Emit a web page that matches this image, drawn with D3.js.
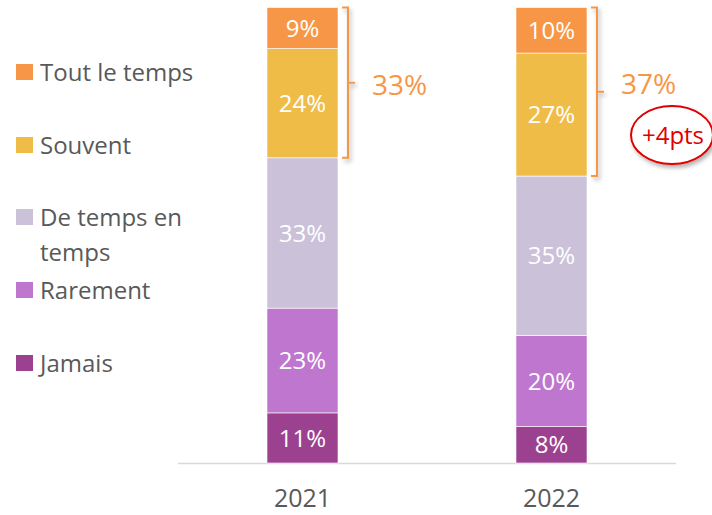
<!DOCTYPE html>
<html>
<head>
<meta charset="utf-8">
<script src="https://cdn.jsdelivr.net/npm/d3@7"></script>
<style>
  body { margin: 0; background: #fff; }
  svg { font-family: "Open Sans", "Noto Sans", sans-serif; }
</style>
</head>
<body>
<svg id="chart" width="712" height="515"></svg>
<script>
// data
const years = ["2021", "2022"];
const categories = ["Jamais", "Rarement", "De temps en temps", "Souvent", "Tout le temps"];
const values2021 = [11, 23, 33, 24, 9];
const values2022 = [8, 20, 35, 27, 10];
const bracketTotals = ["33%", "37%"];
const evolutionLabel = "+4pts";

const colors = ["#9C4190", "#BE76CF", "#CBC2DA", "#F0BC48", "#F79646"];

const rows = years.map((y, i) => {
    const row = { year: y };
    const vals = i === 0 ? values2021 : values2022;
    categories.forEach((c, j) => row[c] = vals[j]);
    return row;
});

const svg = d3.select("#chart");

const x = d3.scalePoint().domain(years).range([178, 676]).padding(0.5);
const y = d3.scaleLinear().domain([0, 100]).range([463, 7.5]);
const barWidth = 71;
const color = d3.scaleOrdinal().domain(categories).range(colors);

const defs = svg.append("defs");
const shadow = defs.append("filter").attr("id", "shadow")
    .attr("x", "-30%").attr("y", "-30%").attr("width", "160%").attr("height", "160%");
shadow.append("feDropShadow")
    .attr("dx", 2).attr("dy", 3).attr("stdDeviation", 2)
    .attr("flood-color", "#000").attr("flood-opacity", 0.3);

// axis line
svg.append("line")
    .attr("x1", 178).attr("x2", 676)
    .attr("y1", y(0) + 0.5).attr("y2", y(0) + 0.5)
    .attr("stroke", "#d9d9d9").attr("stroke-width", 1.5);

const stack = d3.stack().keys(categories);
const series = stack(rows);

const layers = svg.append("g").selectAll("g")
    .data(series)
    .enter().append("g")
    .attr("fill", d => color(d.key));

layers.selectAll("rect")
    .data(d => d.map(p => ({ key: d.key, p: p })))
    .enter().append("rect")
    .attr("x", d => x(d.p.data.year) - barWidth / 2)
    .attr("y", d => y(d.p[1]))
    .attr("width", barWidth)
    .attr("height", d => y(d.p[0]) - y(d.p[1]))
    .attr("stroke", "#fff")
    .attr("stroke-width", 0.6);

layers.selectAll("text")
    .data(d => d.map(p => ({ key: d.key, p: p })))
    .enter().append("text")
    .attr("x", d => x(d.p.data.year))
    .attr("y", d => (y(d.p[0]) + y(d.p[1])) / 2)
    .attr("dy", "0.36em")
    .attr("text-anchor", "middle")
    .attr("fill", "#fff")
    .attr("font-size", "24px")
    .text(d => (d.p[1] - d.p[0]) + "%");

// x labels
svg.append("g").selectAll("text")
    .data(years)
    .enter().append("text")
    .attr("x", d => x(d))
    .attr("y", 507)
    .attr("text-anchor", "middle")
    .attr("fill", "#595959")
    .attr("font-size", "25px")
    .text(d => d);

// brackets round the top two categories
const topSeries = series[series.length - 1];
const souventSeries = series[series.length - 2];
years.forEach((yr, i) => {
    const top = y(topSeries[i][1]);
    const bottom = y(souventSeries[i][0]);
    const x0 = x(yr) + barWidth / 2 + 4;
    const x1 = x0 + 6;
    const mid = (top + bottom) / 2;
    svg.append("path")
        .attr("d", `M${x0},${top} H${x1} V${bottom} H${x0} M${x1},${mid} H${x1 + 7}`)
        .attr("fill", "none")
        .attr("stroke", "#F79646")
        .attr("stroke-width", 2)
        .attr("filter", "url(#shadow)");
    // the 2022 total sits a little higher, clear of the bubble
    const shift = i === 1 ? -8 : 2;
    svg.append("text")
        .attr("x", x1 + 24)
        .attr("y", mid + shift)
        .attr("dy", "0.36em")
        .attr("fill", "#F79646")
        .attr("font-size", "28px")
        .text(bracketTotals[i]);
});

// +4pts bubble
const bubble = svg.append("g");
bubble.append("ellipse")
    .attr("cx", 672).attr("cy", 135)
    .attr("rx", 41).attr("ry", 29)
    .attr("fill", "#fff")
    .attr("stroke", "#E00000")
    .attr("stroke-width", 2)
    .attr("filter", "url(#shadow)");
bubble.append("text")
    .attr("x", 673).attr("y", 135)
    .attr("dy", "0.36em")
    .attr("text-anchor", "middle")
    .attr("fill", "#E00000")
    .attr("font-size", "24px")
    .text(evolutionLabel);

// legend
const legendRows = [
    { key: "Tout le temps", lines: ["Tout le temps"], y: 72 },
    { key: "Souvent", lines: ["Souvent"], y: 145 },
    { key: "De temps en temps", lines: ["De temps en", "temps"], y: 217 },
    { key: "Rarement", lines: ["Rarement"], y: 290 },
    { key: "Jamais", lines: ["Jamais"], y: 363 }
];

const legend = svg.append("g").selectAll("g")
    .data(legendRows)
    .enter().append("g")
    .attr("transform", d => `translate(16, ${d.y})`);

legend.append("rect")
    .attr("y", -8)
    .attr("width", 17)
    .attr("height", 16)
    .attr("fill", d => color(d.key));

legend.append("text")
    .attr("x", 24)
    .attr("fill", "#595959")
    .attr("font-size", "24px")
    .selectAll("tspan")
    .data(d => d.lines)
    .enter().append("tspan")
    .attr("x", 24)
    .attr("y", (d, i) => i * 35)
    .attr("dy", "0.36em")
    .text(d => d);
</script>
</body>
</html>
